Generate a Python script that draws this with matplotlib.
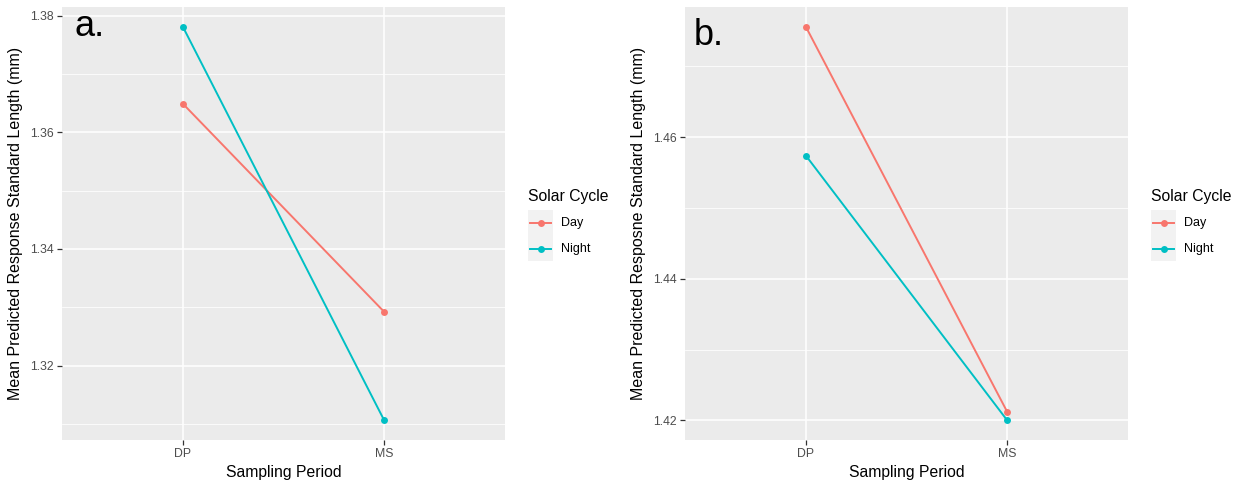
import matplotlib
matplotlib.use("Agg")
import matplotlib.pyplot as plt
from matplotlib.lines import Line2D
from matplotlib.patches import Rectangle
from matplotlib.ticker import MultipleLocator

plt.rcParams["font.family"] = ["Liberation Sans", "DejaVu Sans"]

# Data
periods = ["DP", "MS"]
cycles = ["Day", "Night"]
panel_a = {"Day": [1.3649, 1.3292], "Night": [1.3781, 1.3106]}
panel_b = {"Day": [1.4756, 1.4212], "Night": [1.4574, 1.4200]}
ticks_a = [1.32, 1.34, 1.36, 1.38]
ticks_b = [1.42, 1.44, 1.46]
ylabel_a = "Mean Predicted Response Standard Length (mm)"
ylabel_b = "Mean Predicted Resposne Standard Length (mm)"
colors = {"Day": "#F8766D", "Night": "#00BFC4"}

W, H = 1240, 482
fig = plt.figure(figsize=(W / 100, H / 100), dpi=100)
fig.patch.set_facecolor("white")


def px(x, y):
    return x / W, 1 - y / H


def panel(left, data, ticks, ylabel, tag, tag_xy, legend_x):
    top, bottom, width = 7, 440, 443
    ax = fig.add_axes([left / W, (H - bottom) / H, width / W, (bottom - top) / H])
    ax.set_facecolor("#EBEBEB")
    xs = list(range(1, len(periods) + 1))
    for c in cycles:
        ax.plot(xs, data[c], color=colors[c], lw=1.4, marker="o", ms=5,
                markeredgewidth=0, zorder=3)
    vals = [v for c in cycles for v in data[c]]
    lo, hi = min(vals), max(vals)
    pad = 0.05 * (hi - lo)
    ax.set_ylim(lo - pad, hi + pad)
    ax.set_xlim(0.4, len(periods) + 0.6)
    ax.set_xticks(xs)
    ax.set_xticklabels(periods)
    ax.set_yticks(ticks)
    ax.set_yticklabels([f"{t:.2f}" for t in ticks])
    ax.yaxis.set_minor_locator(MultipleLocator(0.01))
    ax.grid(True, which="major", color="white", lw=1.1)
    ax.grid(True, which="minor", axis="y", color="white", lw=0.55)
    ax.set_axisbelow(True)
    for s in ax.spines.values():
        s.set_visible(False)
    ax.tick_params(axis="both", which="major", length=3.5, width=0.9,
                   color="#333333", labelcolor="#4D4D4D", labelsize=8.8, pad=2.5)
    ax.tick_params(axis="y", which="minor", length=0)
    ax.set_xlabel("Sampling Period", fontsize=11.3, color="black", labelpad=3)
    ax.set_ylabel(ylabel, fontsize=11.5, color="black", labelpad=5)
    fig.text(*px(*tag_xy), tag, fontsize=26, color="black", va="baseline", ha="left")

    # legend
    fig.text(*px(legend_x, 197), "Solar Cycle", fontsize=11.3, color="black",
             va="center", ha="left")
    kx0, ky0 = legend_x, 210
    fig.patches.append(Rectangle(px(kx0, ky0 + 51), 25 / W, 51 / H,
                                 transform=fig.transFigure, facecolor="#F2F2F2",
                                 edgecolor="none"))
    for i, c in enumerate(cycles):
        yc = ky0 + 13 + i * 26
        x1, y1 = px(kx0 + 2, yc)
        x2, _ = px(kx0 + 23, yc)
        fig.add_artist(Line2D([x1, x2], [y1, y1], transform=fig.transFigure,
                              color=colors[c], lw=1.4))
        fig.add_artist(Line2D([(x1 + x2) / 2], [y1], transform=fig.transFigure,
                              color=colors[c], marker="o", ms=5, markeredgewidth=0))
        fig.text(*px(kx0 + 33, yc), c, fontsize=9, color="black",
                 va="center", ha="left")
    return ax


panel(62, panel_a, ticks_a, ylabel_a, "a.", (74, 36), 528)
panel(685, panel_b, ticks_b, ylabel_b, "b.", (694, 45), 1151)

fig.savefig("out.png", dpi=100)
